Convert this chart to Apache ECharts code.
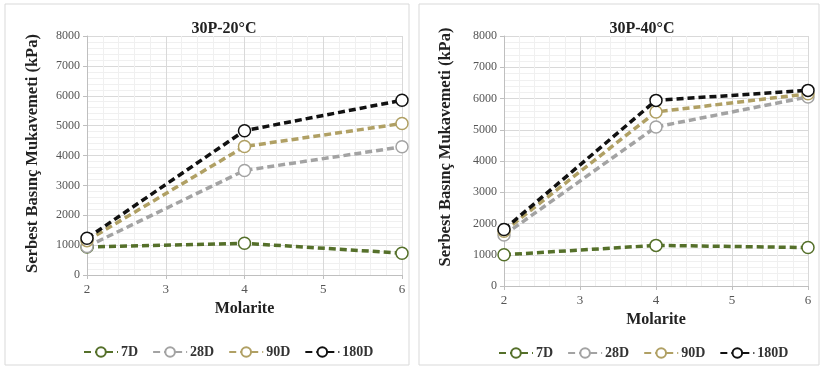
<!DOCTYPE html>
<html><head><meta charset="utf-8">
<script src="https://cdn.jsdelivr.net/npm/echarts@6/dist/echarts.min.js"></script>
<style>html,body{margin:0;padding:0;background:#fff}#c{width:822px;height:369px}</style>
</head><body><div id="c"></div>
<script>
const molarite = [2, 4, 6];
const seriesNames = ['7D', '28D', '90D', '180D'];
const t20_7D = [940, 1060, 730];
const t20_28D = [950, 3500, 4290];
const t20_90D = [1150, 4300, 5070];
const t20_180D = [1230, 4830, 5850];
const t40_7D = [1000, 1300, 1230];
const t40_28D = [1630, 5090, 6050];
const t40_90D = [1750, 5570, 6150];
const t40_180D = [1810, 5940, 6260];
const titles = ['30P-20°C', '30P-40°C'];
const yTitle = 'Serbest Basınç Mukavemeti (kPa)';
const xTitle = 'Molarite';

const colors = ['#55702a', '#a3a3a3', '#b0a064', '#111111'];
const font = 'Liberation Serif';
const chart = echarts.init(document.getElementById('c'));

function pairs(v){ return molarite.map((m,i)=>[m, v[i]]); }
const sets = [[t20_7D,t20_28D,t20_90D,t20_180D],[t40_7D,t40_28D,t40_90D,t40_180D]];

const grids = [
  {left: 87, top: 36, width: 315, height: 239},
  {left: 504, top: 36, width: 304, height: 250}
];
function xAx(i){ return {type:'value', gridIndex:i, min:2, max:6, interval:1,
  name: xTitle, nameLocation:'middle', nameGap: 26,
  nameTextStyle:{fontFamily:font, fontWeight:'bold', fontSize:16, color:'#222'},
  axisLine:{show:true, lineStyle:{color:'#bfbfbf'}}, axisTick:{show:true, length:4, lineStyle:{color:'#bfbfbf'}},
  axisLabel:{fontFamily:font, fontSize:13, color:'#555', margin:8, formatter: v => String(v)},
  splitLine:{show:true, lineStyle:{color:'#d9d9d9'}},
  minorTick:{show:false, splitNumber:5}, minorSplitLine:{show:true, lineStyle:{color:'#f0f0f0'}}}; }
function yAx(i){ return {type:'value', gridIndex:i, min:0, max:8000, interval:1000,
  name: yTitle, nameLocation:'middle', nameGap: i===0?46:50, nameRotate:90,
  nameTextStyle:{fontFamily:font, fontWeight:'bold', fontSize:16.5, color:'#222',
    padding: i===0 ? [0,0,0,4] : [0,0,0,28]},
  axisLine:{show:true, lineStyle:{color:'#bfbfbf'}}, axisTick:{show:true, length:4, lineStyle:{color:'#bfbfbf'}},
  axisLabel:{fontFamily:font, fontSize:12, color:'#555', margin:7, formatter: v => String(v)},
  splitLine:{show:true, lineStyle:{color:'#d9d9d9'}},
  minorTick:{show:false, splitNumber:5}, minorSplitLine:{show:true, lineStyle:{color:'#f0f0f0'}}}; }

const series = [];
sets.forEach((s, gi) => {
  s.forEach((vals, k) => {
    series.push({name: seriesNames[k], type:'line', xAxisIndex:gi, yAxisIndex:gi,
      data: pairs(vals), symbol:'circle', symbolSize:12, z: 2+k,
      lineStyle:{color:colors[k], width:3.5, type:[7,4]},
      itemStyle:{color:'#fff', borderColor:colors[k], borderWidth:1.5},
      emphasis:{disabled:true}});
  });
});

const legendBase = {data: seriesNames, itemWidth:34, itemHeight:12, itemGap:14,
  textStyle:{fontFamily:font, fontWeight:'bold', fontSize:14, color:'#333', padding:[0,0,0,-2]}};

chart.setOption({
  animation:false,
  title:[
    {text:titles[0], left:219, top:16, textAlign:'center', textStyle:{fontFamily:font, fontWeight:'bold', fontSize:16, color:'#222'}},
    {text:titles[1], left:637, top:16, textAlign:'center', textStyle:{fontFamily:font, fontWeight:'bold', fontSize:16, color:'#222'}}
  ],
  graphic:[
    {type:'rect', shape:{x:5, y:4, width:404, height:361}, style:{fill:'none', stroke:'#d9d9d9', lineWidth:1}, silent:true},
    {type:'rect', shape:{x:419, y:4, width:400, height:361}, style:{fill:'none', stroke:'#d9d9d9', lineWidth:1}, silent:true}
  ],
  legend:[
    Object.assign({left:78, top:340}, legendBase),
    Object.assign({left:493, top:341}, legendBase)
  ],
  grid: grids,
  xAxis:[xAx(0), xAx(1)],
  yAxis:[yAx(0), yAx(1)],
  series: series
});
</script></body></html>
